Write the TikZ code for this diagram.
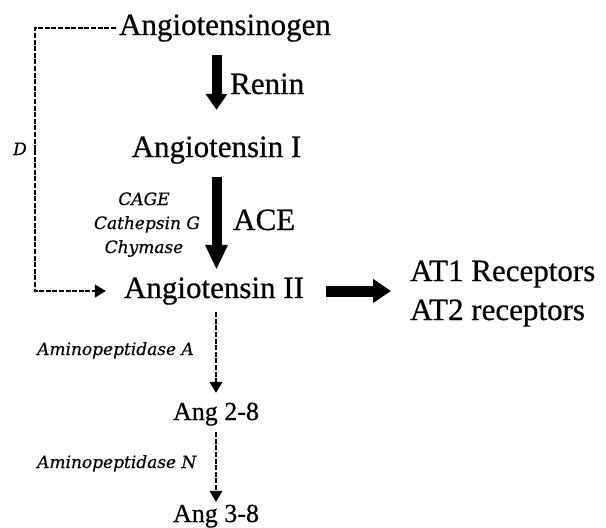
\documentclass[tikz,border=0pt]{standalone}
\usepackage{fontspec}
\setmainfont{Liberation Serif}[FakeBold=0.6]
\newfontfamily\itf{DejaVu Serif}[ItalicFeatures={FakeBold=0.4}]
\usetikzlibrary{arrows.meta}
\tikzset{
  mainlbl/.style={inner sep=0pt, text height=21pt, text depth=7pt, font=\fontsize{31}{36}\selectfont},
  anglbl/.style={inner sep=0pt, text height=18pt, text depth=6pt, font=\fontsize{26}{30}\selectfont},
  enzlbl/.style={inner sep=0pt, font=\itf\itshape\fontsize{17}{20}\selectfont},
  bigdown/.style={line width=10pt, -{Triangle[width=21pt,length=#1]}},
  bigright/.style={line width=11pt, -{Triangle[width=23pt,length=18pt]}},
  dashline/.style={line width=1.3pt, dash pattern=on 5pt off 1.6pt},
  dasharrow/.style={dashline, -{Triangle[width=13pt,length=11pt]}},
}
\begin{document}
\begin{tikzpicture}[x=1pt,y=-1pt]
\useasboundingbox[fill=white] (0,0) rectangle (606,528);
% main labels
\node[mainlbl, anchor=base] (ag) at (225,35) {Angiotensinogen};
\node[mainlbl, anchor=base] (a1) at (216.5,157) {Angiotensin I};
\node[mainlbl, anchor=base] (a2) at (214,298) {Angiotensin II};
\node[mainlbl, anchor=base west] (renin) at (230,94) {Renin};
\node[mainlbl, anchor=base west] (ace) at (233,230) {ACE};
\node[mainlbl, anchor=base west] (at1) at (410,281) {AT1 Receptors};
\node[mainlbl, anchor=base west] (at2) at (410,320) {AT2 receptors};
\node[anglbl, anchor=base] (ang28) at (216,420) {Ang 2-8};
\node[anglbl, anchor=base] (ang38) at (216,522) {Ang 3-8};
% enzymes
\node[enzlbl, anchor=base] (cage) at (144,205) {CAGE};
\node[enzlbl, anchor=base] (cath) at (147,229) {Cathepsin G};
\node[enzlbl, anchor=base] (chym) at (144,253) {Chymase};
\node[enzlbl, anchor=base west] (apa) at (37,355) {Aminopeptidase A};
\node[enzlbl, anchor=base west] (apn) at (37,468) {Aminopeptidase N};
\node[enzlbl, anchor=base] (dl) at (20,155) {D};
% thick arrows
\draw[bigdown=16pt] ([yshift=-13pt]ag.south -| a1.north) -- ([yshift=26pt]a1.north);
\draw[bigdown=25pt] ([yshift=-13pt]a1.south) -- ([yshift=7pt]a2.north -| a1.south);
\draw[bigright] ([xshift=22pt]a2.east) -- ([xshift=-19pt]a2.east -| at1.west);
% dashed bypass
\coordinate (dx) at (35,150);
\draw[dashline] ([xshift=-3pt]ag.west) -| (dx);
\draw[dasharrow] (dx) |- ([xshift=-18pt]a2.west);
% dashed degradation
\draw[dasharrow] ([yshift=-7pt]a2.south -| ang28.north) -- ([yshift=9pt]ang28.north);
\draw[dasharrow] ([yshift=-6pt]ang28.south) -- ([yshift=2pt]ang38.north);
\end{tikzpicture}
\end{document}
